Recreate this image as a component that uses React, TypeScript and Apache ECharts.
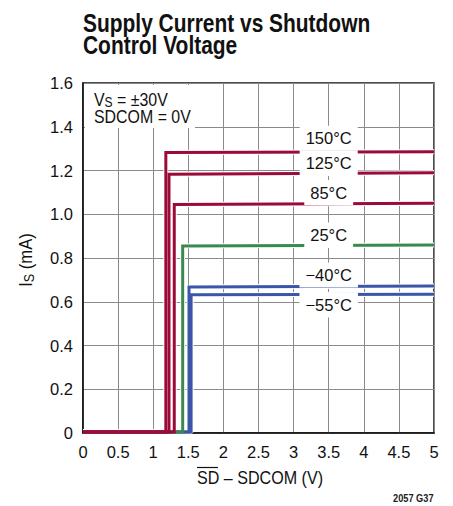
import React, { useEffect, useRef } from "react";
import * as echarts from "echarts";

const temps = ["150°C", "125°C", "85°C", "25°C", "−40°C", "−55°C"];
const thresholdV = [1.18, 1.225, 1.3, 1.42, 1.51, 1.54];
const onCurrentStart = [1.282, 1.183, 1.045, 0.855, 0.668, 0.632];
const onCurrentEnd = [1.286, 1.19, 1.05, 0.859, 0.672, 0.634];
const offCurrent = 0.005;
const xMax = 5;
const labelX = 3.5;
const labelY = [1.347, 1.233, 1.099, 0.905, 0.722, 0.585];
const colors = ["#9b0b37", "#9b0b37", "#9b0b37", "#3a8a4f", "#3b56a8", "#3b56a8"];
const xTicks = [0, 0.5, 1, 1.5, 2, 2.5, 3, 3.5, 4, 4.5, 5];
const yTicks = [0, 0.2, 0.4, 0.6, 0.8, 1.0, 1.2, 1.4, 1.6];

const FONT = "'Liberation Sans', Arial, sans-serif";

export default function App() {
  const ref = useRef<HTMLDivElement>(null);
  useEffect(() => {
    if (!ref.current) return;
    const chart = echarts.init(ref.current, null, { renderer: "svg" });
    const series: any[] = [];
    const order = [5, 4, 3, 2, 1, 0];
    order.forEach((i) => {
      const data = [
        [0, offCurrent],
        [thresholdV[i], offCurrent],
        [thresholdV[i], onCurrentStart[i]],
        [xMax, onCurrentEnd[i]],
      ];
      series.push({
        type: "line",
        name: temps[i] + " halo",
        data,
        showSymbol: false,
        symbol: "none",
        silent: true,
        lineStyle: { color: "#ffffff", width: 5 },
        z: 3,
      });
      series.push({
        type: "line",
        name: temps[i],
        data,
        showSymbol: false,
        symbol: "none",
        lineStyle: { color: colors[i], width: 3, join: "miter" },
        z: 4,
        markPoint: {
          symbol: "rect",
          symbolSize: 1,
          itemStyle: { color: "rgba(0,0,0,0)" },
          data: [
            {
              coord: [labelX, labelY[i]],
              label: {
                show: true,
                position: "inside",
                formatter: temps[i],
                color: "#111",
                fontFamily: FONT,
                fontSize: 16.5,
                backgroundColor: "#ffffff",
                padding: [4, 6, 4, 6],
              },
            },
          ],
        },
      });
    });

    const option: any = {
      animation: false,
      grid: {
        left: 83,
        right: 19,
        top: 83,
        bottom: 73,
        show: true,
        borderColor: "#111",
        borderWidth: 1.5,
        backgroundColor: "#fff",
      },
      xAxis: {
        type: "value",
        min: 0,
        max: 5,
        interval: 0.5,
        axisLine: { show: true, lineStyle: { color: "#111", width: 1.5 } },
        axisTick: { show: false },
        splitLine: { show: true, lineStyle: { color: "#8a8a8a", width: 1 } },
        axisLabel: {
          margin: 10,
          color: "#111",
          fontFamily: FONT,
          fontSize: 16.5,
          formatter: (v: number) => (xTicks.includes(v) ? String(v) : ""),
        },
      },
      yAxis: {
        type: "value",
        min: 0,
        max: 1.6,
        interval: 0.2,
        axisLine: { show: true, lineStyle: { color: "#111", width: 1.5 } },
        axisTick: { show: false },
        splitLine: { show: true, lineStyle: { color: "#8a8a8a", width: 1 } },
        axisLabel: {
          margin: 10,
          color: "#111",
          fontFamily: FONT,
          fontSize: 16.5,
          formatter: (v: number) => {
            const t = yTicks.find((y) => Math.abs(y - v) < 1e-6);
            if (t === undefined) return "";
            return t === 0 ? "0" : t.toFixed(1);
          },
        },
      },
      series,
      graphic: [
        {
          type: "text",
          x: 83,
          y: 22.5,
          scaleX: 0.79,
          style: {
            text: "Supply Current vs Shutdown",
            fontFamily: FONT,
            fontWeight: "bold",
            fontSize: 26.5,
            verticalAlign: "middle",
            fill: "#111",
          },
        },
        {
          type: "text",
          x: 83,
          y: 45,
          scaleX: 0.79,
          style: {
            text: "Control Voltage",
            fontFamily: FONT,
            fontWeight: "bold",
            fontSize: 26.5,
            verticalAlign: "middle",
            fill: "#111",
          },
        },
        {
          type: "rect",
          shape: { x: 85, y: 85, width: 110, height: 43 },
          style: { fill: "#fff" },
          z: 10,
        },
        {
          type: "text",
          x: 94,
          y: 99.5,
          z: 11,
          scaleX: 0.86,
          style: {
            text: "V{s|S} = ±30V",
            fontFamily: FONT,
            fontSize: 18.5,
            verticalAlign: "middle",
            fill: "#111",
            rich: {
              s: { fontFamily: FONT, fontSize: 14, lineHeight: 12, verticalAlign: "bottom", fill: "#111" },
            },
          },
        },
        {
          type: "text",
          x: 94,
          y: 117,
          z: 11,
          scaleX: 0.86,
          style: {
            text: "SDCOM = 0V",
            fontFamily: FONT,
            fontSize: 18.5,
            verticalAlign: "middle",
            fill: "#111",
          },
        },
        {
          type: "text",
          x: 26,
          y: 260,
          rotation: Math.PI / 2,
          scaleX: 0.9,
          style: {
            text: "I{s|S} (mA)",
            fontFamily: FONT,
            fontSize: 18.5,
            lineHeight: 20,
            fill: "#111",
            align: "center",
            verticalAlign: "middle",
            rich: {
              s: { fontFamily: FONT, fontSize: 14, lineHeight: 12, verticalAlign: "bottom", fill: "#111" },
            },
          },
        },
        {
          type: "text",
          x: 197,
          y: 478,
          scaleX: 0.87,
          style: {
            text: "SD – SDCOM (V)",
            fontFamily: FONT,
            fontSize: 18.5,
            fill: "#111",
            align: "left",
            verticalAlign: "middle",
          },
        },
        {
          type: "line",
          shape: { x1: 197, y1: 467.5, x2: 218, y2: 467.5 },
          style: { stroke: "#111", lineWidth: 1.2 },
        },
        {
          type: "text",
          x: 393,
          y: 498,
          scaleX: 0.84,
          style: {
            text: "2057 G37",
            fontFamily: FONT,
            fontSize: 11,
            fontWeight: "bold",
            verticalAlign: "middle",
            fill: "#222",
          },
        },
      ],
    };
    chart.setOption(option);
    return () => chart.dispose();
  }, []);
  return (
    <div
      ref={ref}
      style={{ position: "absolute", left: 0, top: 0, width: 453, height: 506 }}
    />
  );
}
